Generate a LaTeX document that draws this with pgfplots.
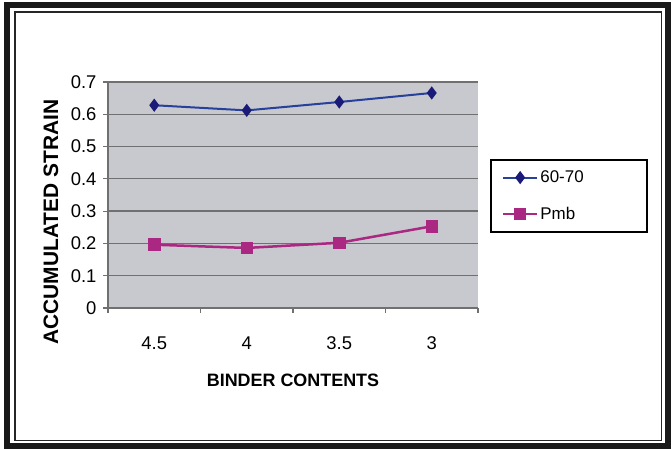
\documentclass[border=0pt]{standalone}
\usepackage{fontspec}
\setmainfont{Liberation Sans}
\usepackage{pgfplots}
\pgfplotsset{compat=1.18}

\definecolor{plotbg}{RGB}{200,201,207}
\definecolor{gridgray}{RGB}{112,112,112}
\definecolor{lineblue}{RGB}{38,64,156}
\definecolor{markblue}{RGB}{26,26,120}
\definecolor{pmbmag}{RGB}{170,40,130}

\begin{document}
\begin{tikzpicture}[x=1bp,y=1bp]
\useasboundingbox (0,0) rectangle (671,449);
% double frame round the chart
\draw[line width=6bp, black!90] (7,3) rectangle (668,444);
\draw[line width=1.8bp, black!85] (15,8.5) rectangle (661.5,437);

\begin{axis}[
  at={(108bp,141bp)}, anchor=south west,
  scale only axis, width=370bp, height=226bp,
  xmin=0, xmax=4, ymin=0, ymax=0.7,
  axis background/.style={fill=plotbg},
  axis x line*=bottom, axis y line*=left,
  axis line style={-, gridgray, line width=1.2bp},
  xtick={0.5,1.5,2.5,3.5}, xticklabels={4.5,4,3.5,3},
  major x tick style={draw=none},
  minor xtick={0,1,2,3,4},
  ytick={0,0.1,0.2,0.3,0.4,0.5,0.6,0.7},
  /pgf/number format/.cd, fixed, precision=1, assume math mode=true, /pgfplots/.cd,
  ymajorgrids, grid style={gridgray, line width=1.3bp},
  tick align=outside, major tick length=5bp, minor tick length=5bp,
  tick style={gridgray, line width=1.2bp},
  tick label style={font=\fontsize{18.5}{21}\selectfont},
  xticklabel style={yshift=-20bp},
  yticklabel style={xshift=-3bp},
  xlabel={BINDER CONTENTS},
  ylabel={ACCUMULATED STRAIN},
  xlabel style={at={(axis description cs:0.5,-0.319)}, anchor=center,
    font=\bfseries\fontsize{18}{21}\selectfont},
  ylabel style={at={(axis description cs:-0.154,0.38)}, anchor=center,
    font=\bfseries\fontsize{21}{24}\selectfont},
  legend style={at={(axis description cs:1.0324,0.659)}, anchor=north west,
    draw=black, line width=1.8bp, fill=white,
    font=\fontsize{17}{20}\selectfont,
    inner xsep=11bp, inner ysep=9bp, row sep=19bp},
  legend cell align=left,
  legend image code/.code={
    \draw[mark repeat=2, mark phase=2, #1]
      plot coordinates {(0bp,0bp) (17bp,0bp) (34bp,0bp)};},
]
\addplot[lineblue, line width=2bp, mark=diamond*, mark size=5bp,
  mark options={fill=markblue, draw=markblue}]
  coordinates {(0.5,0.628) (1.5,0.612) (2.5,0.638) (3.5,0.666)};
\addlegendentry{\makebox[94bp][l]{60-70}}
\addplot[pmbmag, line width=2.5bp, mark=square*, mark size=5bp,
  mark options={fill=pmbmag, draw=pmbmag}]
  coordinates {(0.5,0.196) (1.5,0.186) (2.5,0.202) (3.5,0.253)};
\addlegendentry{\makebox[94bp][l]{Pmb}}
\end{axis}
\end{tikzpicture}
\end{document}
